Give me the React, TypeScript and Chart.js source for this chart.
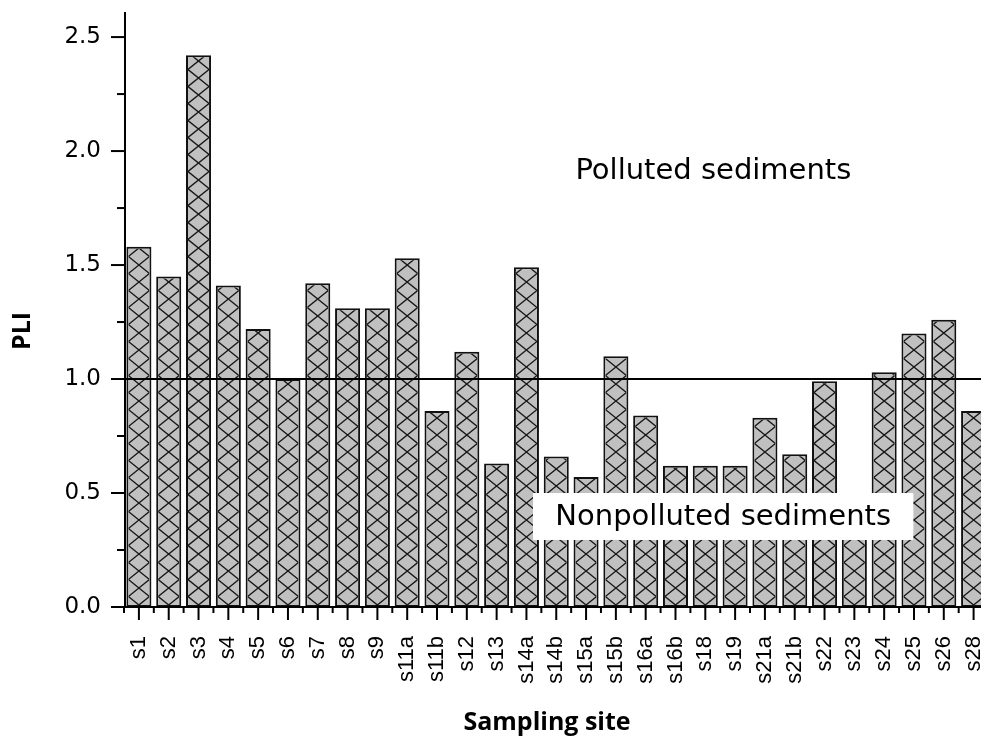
import React, { useEffect, useRef } from "react";
import { Chart, registerables } from "chart.js";

Chart.register(...registerables);

const sites = [
  "s1", "s2", "s3", "s4", "s5", "s6", "s7", "s8", "s9", "s11a", "s11b", "s12", "s13", "s14a", "s14b",
  "s15a", "s15b", "s16a", "s16b", "s18", "s19", "s21a", "s21b", "s22", "s23", "s24", "s25", "s26", "s28",
];
const pliValues = [
  1.58, 1.45, 2.42, 1.41, 1.22, 1.0, 1.42, 1.31, 1.31, 1.53, 0.86, 1.12, 0.63, 1.49, 0.66,
  0.57, 1.1, 0.84, 0.62, 0.62, 0.62, 0.83, 0.67, 0.99, 0.4, 1.03, 1.2, 1.26, 0.86,
];
const yMin = 0;
const yMax = 2.61;
const yStep = 0.5;
const yMinorStep = 0.25;
const thresholdValue = 1.0;
const pollutedLabel = "Polluted sediments";
const nonpollutedLabel = "Nonpolluted sediments";
const xTitle = "Sampling site";
const yTitle = "PLI";

function seg(ctx: CanvasRenderingContext2D, x1: number, y1: number, x2: number, y2: number) {
  ctx.beginPath();
  ctx.moveTo(x1, y1);
  ctx.lineTo(x2, y2);
  ctx.stroke();
}

function zeroPad(s: any) {
  s.paddingLeft = 0;
  s.paddingRight = 0;
  s.paddingTop = 0;
  s.paddingBottom = 0;
}

const decorPlugin = {
  id: "decor",
  afterDatasetsDraw(chart: any) {
    const ctx: CanvasRenderingContext2D = chart.ctx;
    const meta = chart.getDatasetMeta(0);
    ctx.save();
    ctx.strokeStyle = "#181818";
    ctx.lineWidth = 1.4;
    meta.data.forEach((el: any) => {
      const { x, y, base, width } = el.getProps(["x", "y", "base", "width"], true);
      const bw = 2;
      const l = x - width / 2 + bw;
      const r = x + width / 2 - bw;
      const t = Math.min(y, base) + bw;
      const b = Math.max(y, base) - bw;
      if (b <= t) return;
      ctx.save();
      ctx.beginPath();
      ctx.rect(l, t, r - l, b - t);
      ctx.clip();
      const P = 17;
      ctx.beginPath();
      for (let c = b + P; c > t - P; c -= P) {
        ctx.moveTo(l, c + P / 2);
        ctx.lineTo(r, c - P / 2);
        ctx.moveTo(l, c - P / 2);
        ctx.lineTo(r, c + P / 2);
      }
      ctx.stroke();
      ctx.restore();
    });
    ctx.restore();
  },
  afterDraw(chart: any) {
    const ctx: CanvasRenderingContext2D = chart.ctx;
    const { left, right, top, bottom } = chart.chartArea;
    const xs = chart.scales.x;
    const ys = chart.scales.y;
    ctx.save();
    ctx.strokeStyle = "#000";
    ctx.fillStyle = "#000";
    ctx.lineWidth = 2;

    // threshold line
    const yT = ys.getPixelForValue(thresholdValue);
    seg(ctx, left, yT, right, yT);

    // annotations
    ctx.font = '29px "DejaVu Sans"';
    ctx.textAlign = "center";
    ctx.textBaseline = "middle";
    ctx.fillText(pollutedLabel, xs.getPixelForValue(19.27), ys.getPixelForValue(1.91));

    const bx1 = xs.getPixelForValue(13.22);
    const bx2 = xs.getPixelForValue(25.98);
    const by1 = ys.getPixelForValue(0.5);
    const by2 = ys.getPixelForValue(0.294);
    ctx.fillStyle = "#fff";
    ctx.fillRect(bx1, by1, bx2 - bx1, by2 - by1);
    ctx.fillStyle = "#000";
    ctx.fillText(nonpollutedLabel, (bx1 + bx2) / 2, (by1 + by2) / 2 + 1);

    // axes
    seg(ctx, left + 1, top, left + 1, bottom + 1);
    seg(ctx, left, bottom, right, bottom);

    // x ticks
    for (let i = 0; i < sites.length; i++) {
      const cx = xs.getPixelForValue(i);
      seg(ctx, cx, bottom, cx, bottom + 13);
    }
    for (let i = 0; i <= sites.length; i++) {
      const bx = xs.getPixelForValue(i - 0.5);
      seg(ctx, bx, bottom, bx, bottom + 6);
    }
    // y ticks
    const nMinor = Math.round((2.5 - yMin) / yMinorStep);
    for (let k = 0; k <= nMinor; k++) {
      const v = yMin + k * yMinorStep;
      const py = ys.getPixelForValue(v);
      const major = k % Math.round(yStep / yMinorStep) === 0;
      seg(ctx, left - (major ? 13 : 7), py, left + 1, py);
    }

    // titles
    ctx.font = 'bold 25px "Open Sans"';
    ctx.textAlign = "center";
    ctx.textBaseline = "middle";
    ctx.fillText(xTitle, 547, 723);
    ctx.save();
    ctx.translate(23, 331);
    ctx.rotate(-Math.PI / 2);
    ctx.fillText(yTitle, 0, 0);
    ctx.restore();

    ctx.restore();
  },
};

export default function App() {
  const ref = useRef<HTMLCanvasElement | null>(null);
  useEffect(() => {
    if (!ref.current) return;
    const chart = new Chart(ref.current, {
      type: "bar",
      data: {
        labels: sites,
        datasets: [
          {
            data: pliValues,
            backgroundColor: "#c0c0c0",
            borderColor: "#111111",
            borderWidth: 2,
            borderSkipped: false,
            barPercentage: 0.84,
            categoryPercentage: 1.0,
          },
        ],
      },
      options: {
        animation: false,
        responsive: false,
        layout: { padding: { top: 12, right: 1.5, left: 0, bottom: 0 } },
        plugins: { legend: { display: false }, tooltip: { enabled: false } },
        scales: {
          x: {
            type: "category",
            offset: true,
            grid: { display: false, drawTicks: false },
            border: { display: false },
            ticks: {
              autoSkip: false,
              maxRotation: 90,
              minRotation: 90,
              padding: 29,
              color: "#000",
              font: { family: '"Liberation Sans", Arial, sans-serif', size: 22 },
            },
            afterFit: (s: any) => {
              s.height = 131;
              zeroPad(s);
            },
          },
          y: {
            min: yMin,
            max: yMax,
            grid: { display: false, drawTicks: false },
            border: { display: false },
            ticks: {
              stepSize: yStep,
              includeBounds: false,
              padding: 23,
              color: "#000",
              font: { family: '"DejaVu Sans", sans-serif', size: 23 },
              callback: (v: any) => Number(v).toFixed(1),
            },
            afterFit: (s: any) => {
              s.width = 124;
              zeroPad(s);
            },
          },
        },
      },
      plugins: [decorPlugin],
    });
    return () => chart.destroy();
  }, []);
  return (
    <div
      style={{
        position: "fixed",
        left: 0,
        top: 0,
        width: 981,
        height: 738,
        overflow: "hidden",
        background: "#fff",
      }}
    >
      <canvas ref={ref} width={990} height={738} style={{ display: "block" }} />
    </div>
  );
}
